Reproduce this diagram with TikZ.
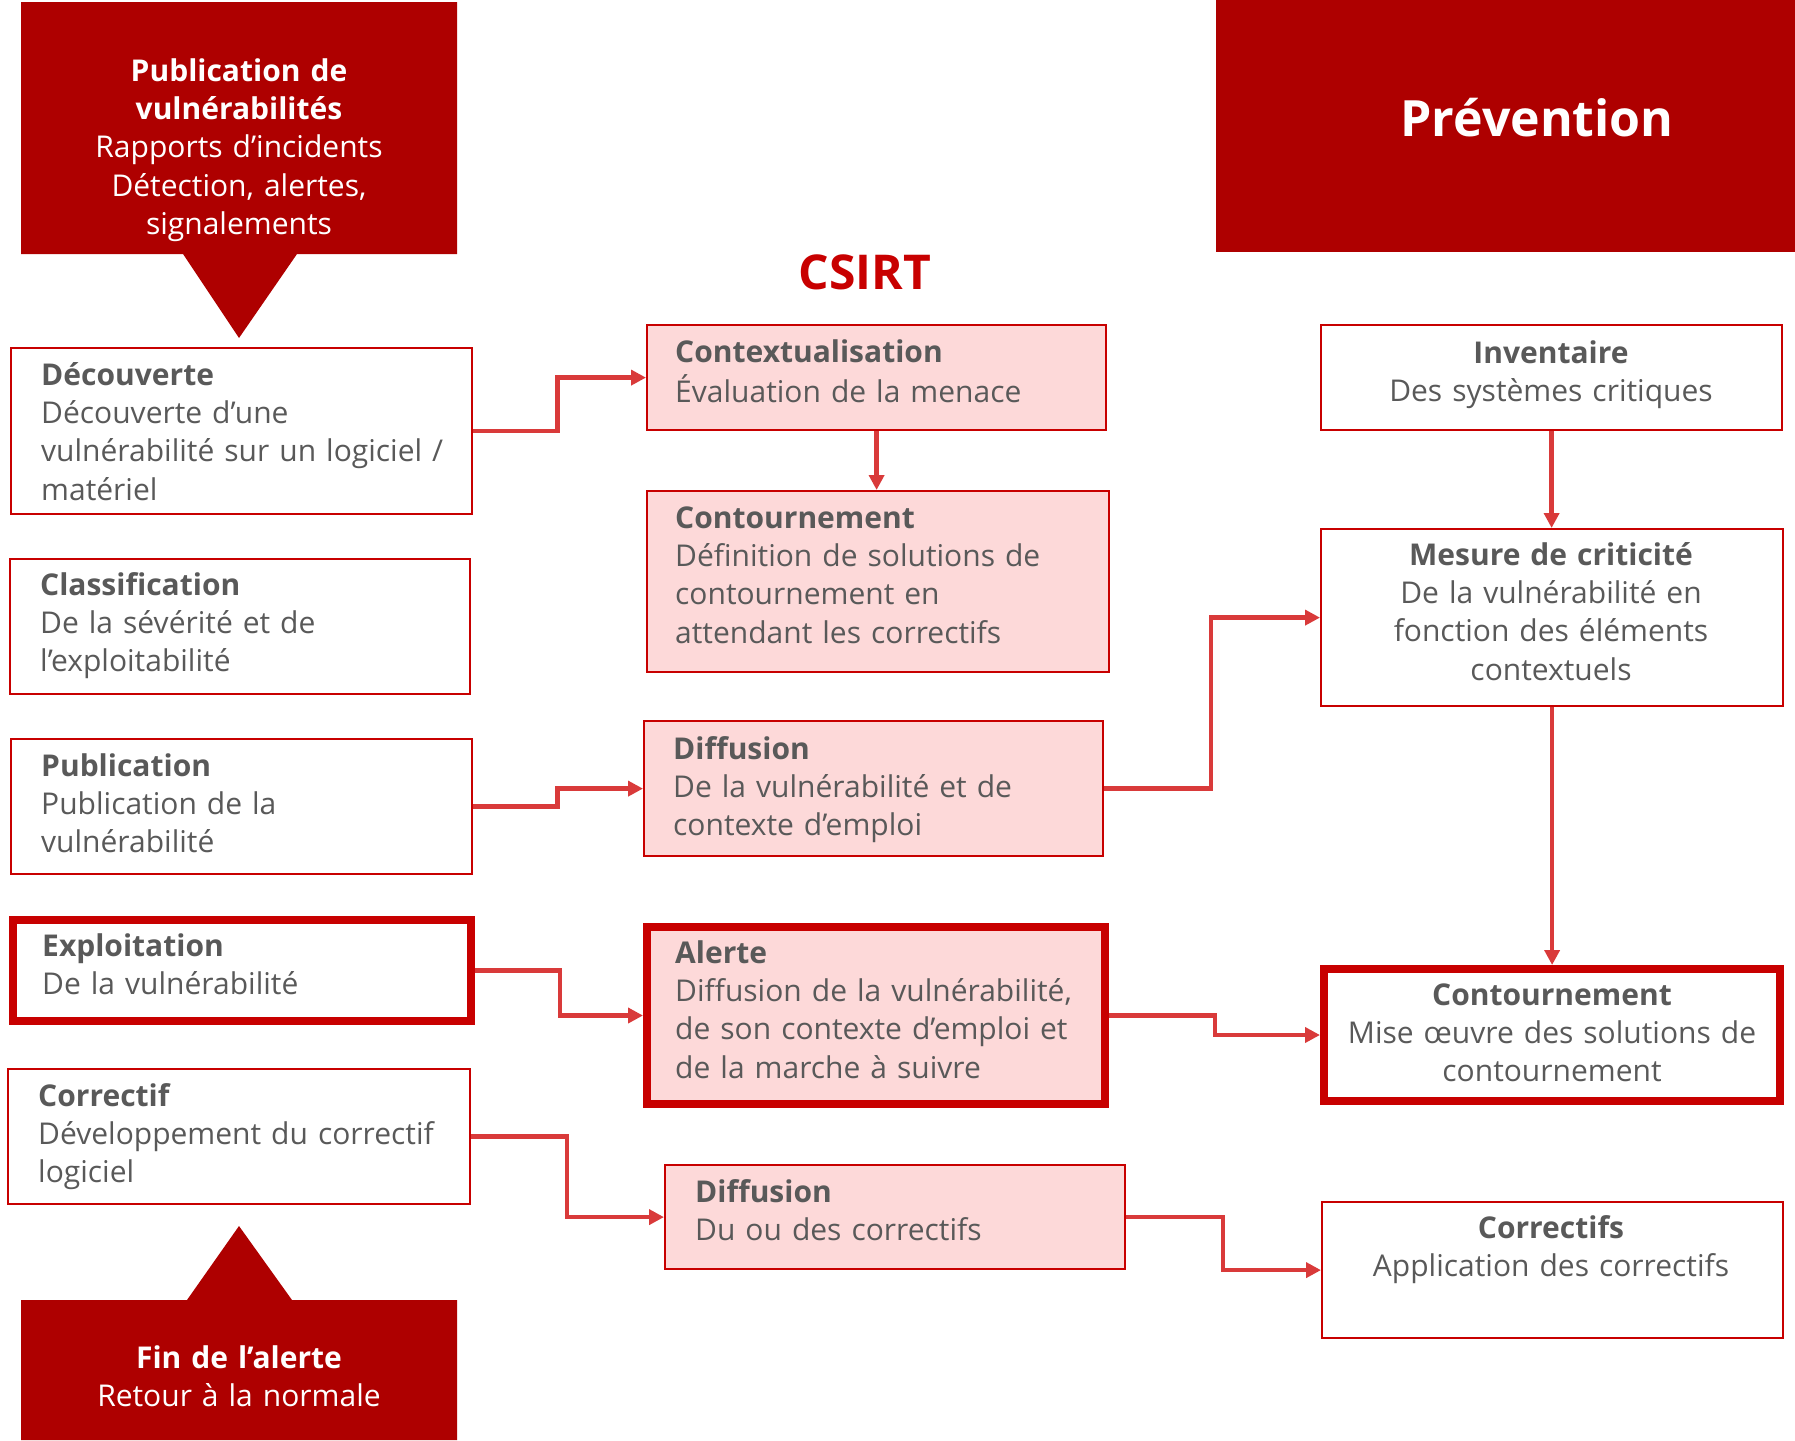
\documentclass[tikz,border=0pt]{standalone}
\usepackage{fontspec}
\setmainfont{Open Sans}
\usetikzlibrary{arrows.meta}
\definecolor{banner}{HTML}{AE0000}
\definecolor{bord}{HTML}{C80000}
\definecolor{pinkf}{HTML}{FDD9D9}
\definecolor{conn}{HTML}{D93A3A}
\definecolor{txt}{HTML}{595959}
\newcommand\fsbody{\fontsize{30}{38.4}\selectfont}
\begin{document}
\begin{tikzpicture}[x=1pt,y=-1pt,
  thinbox/.style={draw=bord,line width=2.2pt,anchor=north west,inner sep=0pt},
  thickbox/.style={draw=bord,line width=8pt,anchor=north west,inner sep=0pt},
  lt/.style={anchor=north west,inner sep=0pt,text width=440pt,align=left,font=\fsbody,text=txt},
  ct/.style={anchor=north,inner sep=0pt,text width=450pt,align=center,font=\fsbody,text=txt},
  wt/.style={anchor=north,inner sep=0pt,text width=430pt,align=center,font=\fsbody,text=white},
  connector/.style={draw=conn,line width=4.5pt,-{Triangle[length=15pt,width=15pt]}},
]
\useasboundingbox (0,0) rectangle (1795,1440);

% banners
\fill[banner] (21,2) -- (457,2) -- (457,254) -- (297,254) -- (239,338) -- (183,254) -- (21,254) -- cycle;
\node[wt] (bantop) at (239,54) {\strut\textbf{Publication de}\\\textbf{vulnérabilités}\\Rapports d’incidents\\Détection, alertes,\\signalements};
\fill[banner] (21,1440) -- (21,1300) -- (187,1300) -- (239,1226) -- (292,1300) -- (457,1300) -- (457,1440) -- cycle;
\node[wt] (banfin) at (239,1341) {\strut\textbf{Fin de l’alerte}\\Retour à la normale};
\fill[banner] (1216,0) rectangle (1795,252);
\node[inner sep=0pt,text=white,font=\fontsize{50}{58}\selectfont\bfseries] (prev) at (1537,118) {Prévention};
\node[inner sep=0pt,text=bord,font=\fontsize{48}{56}\selectfont\bfseries] (csirt) at (865,272) {CSIRT};

% left column
\node[thinbox,minimum width=461pt,minimum height=166pt] (dec) at (10,347) {};
\node[lt] (tdec) at (41,358) {\strut\textbf{Découverte}\\Découverte d’une\\vulnérabilité sur un logiciel /\\matériel};
\node[thinbox,minimum width=460pt,minimum height=135pt] (cla) at (9,558) {};
\node[lt] (tcla) at (40,568) {\strut\textbf{Classification}\\De la sévérité et de\\l’exploitabilité};
\node[thinbox,minimum width=461pt,minimum height=135pt] (pub) at (10,738) {};
\node[lt] (tpub) at (41,749) {\strut\textbf{Publication}\\Publication de la\\vulnérabilité};
\node[thickbox,minimum width=458pt,minimum height=101pt] (exp) at (9,916) {};
\node[lt] (texp) at (42,929) {\strut\textbf{Exploitation}\\De la vulnérabilité};
\node[thinbox,minimum width=462pt,minimum height=135pt] (cor) at (7,1068) {};
\node[lt] (tcor) at (38,1079) {\strut\textbf{Correctif}\\Développement du correctif\\logiciel};

% middle column
\node[thinbox,fill=pinkf,minimum width=459pt,minimum height=105pt] (ctx) at (646,324) {};
\node[lt] (tctx) at (675,335) {\strut\textbf{Contextualisation}\\Évaluation de la menace};
\node[thinbox,fill=pinkf,minimum width=462pt,minimum height=181pt] (cnt) at (646,490) {};
\node[lt] (tcnt) at (675,501) {\strut\textbf{Contournement}\\Définition de solutions de\\contournement en\\attendant les correctifs};
\node[thinbox,fill=pinkf,minimum width=459pt,minimum height=135pt] (dif) at (643,720) {};
\node[lt] (tdif) at (673,732) {\strut\textbf{Diffusion}\\De la vulnérabilité et de\\contexte d’emploi};
\node[thickbox,fill=pinkf,minimum width=458pt,minimum height=177pt] (ale) at (643,923) {};
\node[lt] (tale) at (675,936) {\strut\textbf{Alerte}\\Diffusion de la vulnérabilité,\\de son contexte d’emploi et\\de la marche à suivre};
\node[thinbox,fill=pinkf,minimum width=460pt,minimum height=104pt] (dif2) at (664,1164) {};
\node[lt] (tdif2) at (695,1175) {\strut\textbf{Diffusion}\\Du ou des correctifs};

% right column
\node[thinbox,minimum width=461pt,minimum height=105pt] (inv) at (1320,324) {};
\node[ct] (tinv) at (1551,336) {\strut\textbf{Inventaire}\\Des systèmes critiques};
\node[thinbox,minimum width=462pt,minimum height=177pt] (mes) at (1320,528) {};
\node[ct] (tmes) at (1551,538) {\strut\textbf{Mesure de criticité}\\De la vulnérabilité en\\fonction des éléments\\contextuels};
\node[thickbox,minimum width=456pt,minimum height=132pt] (cntr) at (1320,965) {};
\node[ct] (tcntr) at (1552,978) {\strut\textbf{Contournement}\\Mise œuvre des solutions de\\contournement};
\node[thinbox,minimum width=461pt,minimum height=136pt] (cors) at (1321,1201) {};
\node[ct] (tcors) at (1551,1211) {\strut\textbf{Correctifs}\\Application des correctifs};

% connectors
\draw[connector] (dec.east) -| (557.5,0 |- dec.east) |- (ctx.west);
\draw[connector] (ctx.south) -- (ctx.south |- cnt.north);
\draw[connector] (pub.east) -| (557.5,0 |- pub.east) |- (dif.west);
\draw[connector] (dif.east) -| (1211,0 |- dif.east) |- (mes.west);
\draw[connector] (inv.south) -- (inv.south |- mes.north);
\draw[connector] (mes.south) -- (mes.south |- cntr.north);
\draw[connector] (exp.east) -| (560,0 |- exp.east) |- (ale.west);
\draw[connector] (ale.east) -| (1215,0 |- ale.east) |- (cntr.west);
\draw[connector] (cor.east) -| (567,0 |- cor.east) |- (dif2.west);
\draw[connector] (dif2.east) -| (1223,0 |- dif2.east) |- (cors.west);
\end{tikzpicture}
\end{document}
